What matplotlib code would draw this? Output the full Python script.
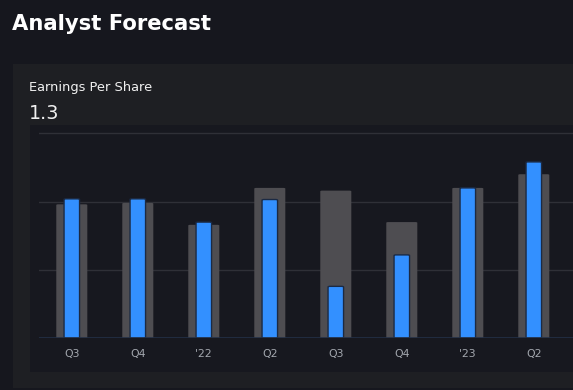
import matplotlib
matplotlib.use("Agg")
import matplotlib.pyplot as plt
from matplotlib.patches import Rectangle, FancyBboxPatch
import numpy as np

# Data
quarters = ["Q3", "Q4", "'22", "Q2", "Q3", "Q4", "'23", "Q2"]
estimate = [0.98, 0.99, 0.83, 1.10, 1.08, 0.85, 1.10, 1.20]
actual = [1.02, 1.02, 0.85, 1.015, 0.38, 0.61, 1.10, 1.29]
grid_values = [0.5, 1.0, 1.5]
current_value = "1.3"

W, H = 573, 390
fig = plt.figure(figsize=(W / 100, H / 100), dpi=100)
fig.patch.set_facecolor("#16171e")

def fx(px):
    return px / W

def fy(py):
    return 1 - py / H

# panel
fig.add_artist(Rectangle((fx(13), fy(388)), fx(600), (388 - 64) / H,
                         transform=fig.transFigure, facecolor="#1e1f23",
                         edgecolor="none", zorder=0))
# inner chart area
fig.add_artist(Rectangle((fx(30), fy(371.5)), fx(600), (371.5 - 125) / H,
                         transform=fig.transFigure, facecolor="#17181f",
                         edgecolor="none", zorder=0))

fig.text(fx(12), fy(24), "Analyst Forecast", color="white", fontsize=15.2,
         fontweight="bold", va="center", ha="left", family="DejaVu Sans")
fig.text(fx(29), fy(88), "Earnings Per Share", color="#f0f0f0", fontsize=9.4,
         va="center", ha="left", family="DejaVu Sans")
fig.text(fx(29), fy(113), current_value, color="#f0f0f0", fontsize=13.8,
         va="center", ha="left", family="DejaVu Sans")

left_px, right_px = 39, 573
base_px, top_px = 338.3, 125
ax = fig.add_axes([fx(left_px), fy(base_px), fx(right_px - left_px),
                   (base_px - top_px) / H])
ax.set_facecolor("none")
x = np.arange(len(quarters))
x0 = (left_px - 71.8) / 66.0
x1 = (right_px - 71.8) / 66.0
ax.set_xlim(x0, x1)
ax.set_ylim(0, 1.56)

for g in grid_values:
    ax.axhline(g, color="#2f3037", linewidth=1, zorder=0)
ax.axhline(0, color="#233046", linewidth=1.2, zorder=5)

def rbar(xc, h, w, color, ec, lw, z):
    p = FancyBboxPatch((xc - w / 2, 0), w, h,
                       boxstyle="round,pad=0,rounding_size=0.03",
                       mutation_aspect=1 / 6.0,
                       facecolor=color, edgecolor=ec, linewidth=lw, zorder=z)
    ax.add_patch(p)

for xi, e, a in zip(x, estimate, actual):
    rbar(xi, e, 0.47, "#4e4d51", "none", 0, 2)
    rbar(xi, a, 0.235, "#3390ff", "#1b2a44", 1.0, 3)

ax.set_xticks(x)
ax.set_xticklabels(quarters, color="#a3a7ae", fontsize=7.8)
ax.tick_params(axis="x", length=0, pad=8)
ax.set_yticks([])
for s in ax.spines.values():
    s.set_visible(False)

fig.savefig("out.png", dpi=100, facecolor=fig.get_facecolor())
